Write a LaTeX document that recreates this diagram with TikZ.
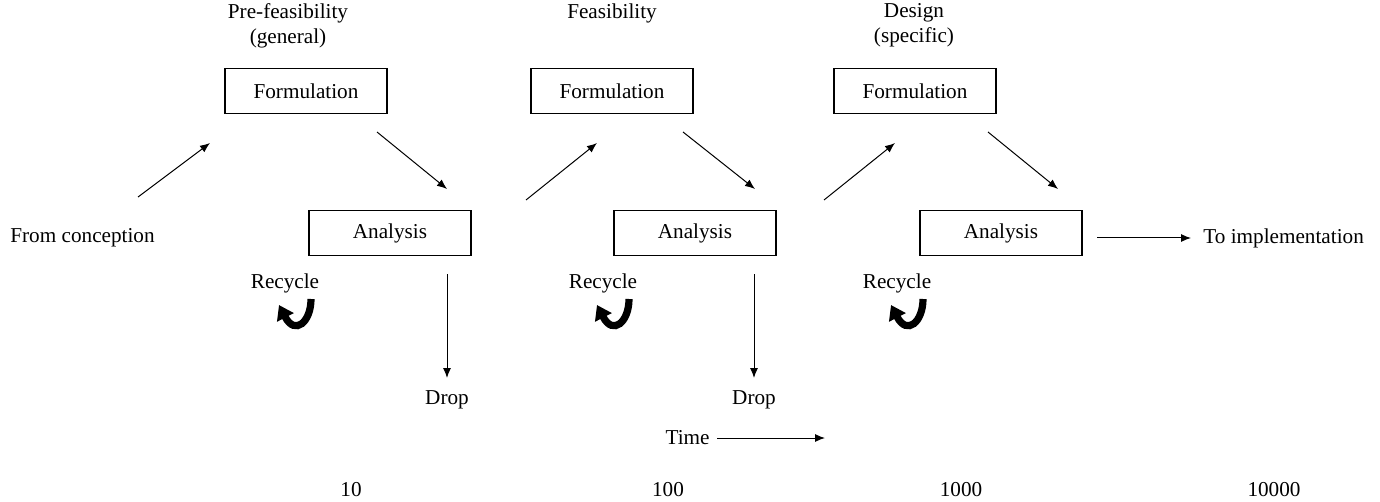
\documentclass[tikz,border=0pt]{standalone}
\usepackage{fontspec}
\setmainfont{Liberation Serif}
\usetikzlibrary{arrows.meta}
\begin{document}
\begin{tikzpicture}[x=0.5pt,y=-0.5pt,
  every node/.style={font=\fontsize{10.6}{12.5}\selectfont, inner sep=0pt},
  box/.style={draw, line width=0.6pt, minimum width=81pt, minimum height=22.5pt},
  arr/.style={-{Latex[length=5pt,width=4pt]}, line width=0.5pt},
  rec/.style={line width=3.6pt, -{Triangle[length=7pt,width=9pt]}}]
\useasboundingbox (0,0) rectangle (1380,502);
% boxes
\node[box] (f1) at (306,91) {Formulation};
\node[box] (f2) at (612,91) {Formulation};
\node[box] (f3) at (915,91) {Formulation};
\node[box] (a1) at (390,233) {Analysis};
\node[box] (a2) at (695,233) {Analysis};
\node[box] (a3) at (1001,233) {Analysis};
% stage labels
\node[align=center, anchor=north] (s1) at (288,3) {Pre-feasibility\\(general)};
\node[anchor=north] (s2) at (612,3) {Feasibility};
\node[align=center, anchor=north] (s3) at (914,3) {Design\\(specific)};
% side labels
\node[anchor=west] (from) at (10,238) {From conception};
\node[anchor=west] (to) at (1203,238) {To implementation};
% diagonal arrows
\coordinate (c0a) at (138,197); \coordinate (c0b) at (210,143);
\coordinate (c1a) at (377,132); \coordinate (c1b) at (447,189);
\coordinate (c2a) at (526,200); \coordinate (c2b) at (597,143);
\coordinate (c3a) at (683,132); \coordinate (c3b) at (755,189);
\coordinate (c4a) at (824,200); \coordinate (c4b) at (895,143);
\coordinate (c5a) at (988,132); \coordinate (c5b) at (1058,189);
\draw[arr] (c0a) -- (c0b);
\draw[arr] (c1a) -- (c1b);
\draw[arr] (c2a) -- (c2b);
\draw[arr] (c3a) -- (c3b);
\draw[arr] (c4a) -- (c4b);
\draw[arr] (c5a) -- (c5b);
% to implementation
\coordinate (ti) at (1097,238);
\coordinate (tie) at (1191,238);
\draw[arr] (ti) -- (tie);
% drops
\node (d1) at (447,400) {Drop};
\node (d2) at (754,400) {Drop};
\coordinate (d1s) at (447,274); \coordinate (d1e) at (447,378);
\coordinate (d2s) at (754,274); \coordinate (d2e) at (754,378);
\draw[arr] (d1s) -- (d1e);
\draw[arr] (d2s) -- (d2e);
% recycle
\node (r1) at (285,283) {Recycle};
\node (r2) at (603,283) {Recycle};
\node (r3) at (897,283) {Recycle};
\foreach \c in {285,603,897}{
  \draw[rec] (\c+26,299) .. controls (\c+26,322) and (\c+10,336) .. (\c-6,305);
}
% time
\node[anchor=east] (time) at (710,438) {Time};
\coordinate (ts) at (717,438);
\coordinate (te) at (825,438);
\draw[arr] (ts) -- (te);
% scale numbers
\node (n1) at (351,490) {10};
\node (n2) at (668,490) {100};
\node (n3) at (961,490) {1000};
\node (n4) at (1274,490) {10000};
\end{tikzpicture}
\end{document}
